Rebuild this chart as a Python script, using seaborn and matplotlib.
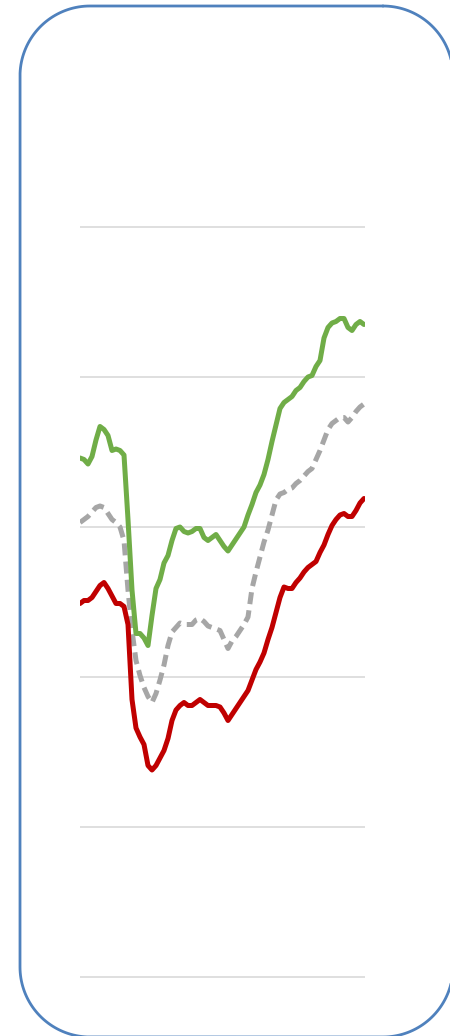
import matplotlib
matplotlib.use("Agg")
import matplotlib.pyplot as plt
from matplotlib.lines import Line2D
import seaborn as sns
import pandas as pd
import numpy as np

# ---- data (arbitrary units, gridlines every 10) ----
green = [34.6, 34.5, 34.2, 34.7, 35.8, 36.7, 36.5, 36.1, 35.1, 35.2, 35.1, 34.8,
         30.5, 25.8, 22.9, 22.9, 22.6, 22.1, 24.1, 25.9, 26.5, 27.6, 28.1, 29.1,
         29.9, 30.0, 29.7, 29.6, 29.7, 29.9, 29.9, 29.3, 29.1, 29.3, 29.5, 29.1,
         28.7, 28.4, 28.8, 29.2, 29.6, 30.0, 30.8, 31.5, 32.3, 32.8, 33.5, 34.5,
         35.7, 36.8, 37.9, 38.3, 38.5, 38.7, 39.1, 39.3, 39.7, 40.0, 40.1, 40.7,
         41.1, 42.6, 43.3, 43.6, 43.7, 43.9, 43.9, 43.3, 43.1, 43.5, 43.7, 43.5]
gray = [30.3, 30.5, 30.7, 31.0, 31.3, 31.4, 31.3, 30.9, 30.5, 30.3, 30.0, 29.1,
        25.8, 23.1, 21.1, 20.1, 19.3, 18.7, 18.3, 18.9, 19.8, 20.8, 22.1, 23.0,
        23.3, 23.6, 23.5, 23.5, 23.5, 23.8, 23.9, 23.7, 23.4, 23.3, 23.2, 23.1,
        22.5, 21.9, 22.4, 22.7, 23.1, 23.5, 24.0, 25.9, 27.0, 28.0, 29.0, 29.8,
        30.8, 31.8, 32.2, 32.3, 32.5, 32.6, 32.9, 33.1, 33.4, 33.7, 33.9, 34.5,
        35.1, 35.8, 36.5, 36.9, 37.1, 37.3, 37.3, 37.0, 37.3, 37.7, 38.0, 38.2]
red = [24.9, 25.1, 25.1, 25.3, 25.7, 26.1, 26.3, 25.9, 25.4, 24.9, 24.9, 24.7,
       23.5, 18.5, 16.6, 16.0, 15.5, 14.1, 13.8, 14.1, 14.6, 15.1, 15.9, 17.1,
       17.8, 18.1, 18.3, 18.1, 18.1, 18.3, 18.5, 18.3, 18.1, 18.1, 18.1, 18.0,
       17.6, 17.1, 17.5, 17.9, 18.3, 18.7, 19.1, 19.8, 20.5, 21.0, 21.6, 22.5,
       23.3, 24.3, 25.3, 26.0, 25.9, 25.9, 26.3, 26.6, 27.0, 27.3, 27.5, 27.7,
       28.3, 28.8, 29.5, 30.1, 30.5, 30.8, 30.9, 30.7, 30.7, 31.1, 31.6, 31.9]
period = list(range(len(green)))
grid_values = [0, 10, 20, 30, 40, 50]

df = pd.DataFrame({"period": period, "green": green, "gray": gray, "red": red})

sns.set_theme(style="white")
W, H = 450, 1036
fig = plt.figure(figsize=(W / 100, H / 100), dpi=100)
fig.patch.set_facecolor("white")

ax = fig.add_axes([80 / W, (H - 1007) / H, 285 / W, 810 / H])
ax.set_facecolor("none")
ax.set_ylim(-2, 52)
ax.set_xlim(0, len(period) - 1 + 0.25)

for v in grid_values:
    ax.axhline(v, color="#D9D9D9", linewidth=1.2, zorder=1)

LW = 3.6
sns.lineplot(data=df, x="period", y="gray", ax=ax, color="#A6A6A6",
             linewidth=LW, zorder=3)
ax.lines[-1].set_dashes((2.4, 1.25))
ax.lines[-1].set_dash_capstyle("butt")
sns.lineplot(data=df, x="period", y="green", ax=ax, color="#70AD47",
             linewidth=LW, zorder=4)
sns.lineplot(data=df, x="period", y="red", ax=ax, color="#C00000",
             linewidth=LW, zorder=4)

ax.set_xlabel("")
ax.set_ylabel("")
ax.set_xticks([])
ax.set_yticks([])
for s in ax.spines.values():
    s.set_visible(False)

# rounded border as a polyline in inches (isotropic), drawn on the figure
x0, x1 = 0.20, 4.53
y0, y1 = -0.01, 10.30
r = 0.70
def arc(cx, cy, a0, a1, n=40):
    t = np.radians(np.linspace(a0, a1, n))
    return cx + r * np.cos(t), cy + r * np.sin(t)
parts = [arc(x1 - r, y1 - r, 90, 0), arc(x1 - r, y0 + r, 0, -90),
         arc(x0 + r, y0 + r, 270, 180), arc(x0 + r, y1 - r, 180, 90)]
bx = np.concatenate([p[0] for p in parts] + [parts[0][0][:1]])
by = np.concatenate([p[1] for p in parts] + [parts[0][1][:1]])
border = Line2D(bx, by, transform=fig.dpi_scale_trans, color="#4F81BD",
               linewidth=2.0, zorder=5)
fig.lines.append(border)

fig.savefig("out.png", dpi=100, facecolor="white")
